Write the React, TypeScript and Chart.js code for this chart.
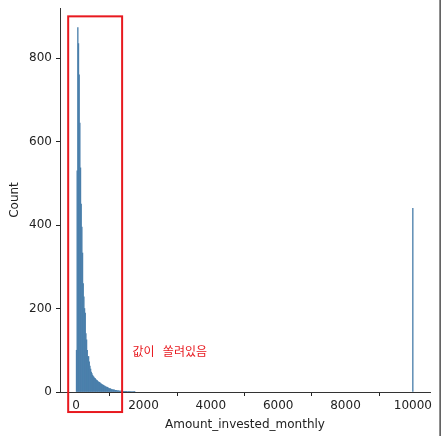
import React, { useEffect, useRef } from "react";
import { Chart, registerables } from "chart.js";

Chart.register(...registerables);

// Histogram of Amount_invested_monthly: bins of equal width starting at 0
const binStart = 0;
const binWidth = 20;
const binCounts = [
  100, 530, 873, 835, 760, 644, 537, 450, 395, 333, // 0-200
  260, 228, 200, 189, 140, 125, 100, 85, 85, 72, // 200-400
  62, 55, 48, 44, 40, 37, 36, 33, 32, 30, // 400-600
  28, 27, 25, 24, 23, 22, 20, 19, 18, 17, // 600-800
  16, 15, 14, 13, 12, 12, 11, 10, 9, 8, // 800-1000
  8, 7, 6, 6, 5, 5, 5, 4, 4, 4, // 1000-1200
  3, 3, 3, 3, 2, 2, 2, 2, 2, 1, // 1200-1400
  1, 1, 1, 1, 1, 1, 0, 1, 0, 1, // 1400-1600
  0, 1, 0, 0, 1, 0, 1, 0, // 1600-1760
];
// Outlier bin (placeholder value 10000)
const outlierValues = [10000];
const outlierCounts = [440];

const xTicks = [0, 2000, 4000, 6000, 8000, 10000];
const yTicks = [0, 200, 400, 600, 800];
const xLabel = "Amount_invested_monthly";
const yLabel = "Count";

// Annotation (data coordinates)
const boxXRange = [-237, 1365];
const boxYRange = [-48, 900];
const noteText = "값이  쏠려있음";
const notePos = [1670, 96];

const BAR_COLOR = "#4a7fab";
const TEXT_COLOR = "#222222";

const overlayPlugin = {
  id: "overlay",
  afterDraw(chart: any) {
    const { ctx, scales } = chart;
    const x = scales.x;
    const y = scales.y;
    ctx.save();
    // red highlight box
    const x0 = x.getPixelForValue(boxXRange[0]);
    const x1 = x.getPixelForValue(boxXRange[1]);
    const y0 = y.getPixelForValue(boxYRange[1]);
    const y1 = y.getPixelForValue(boxYRange[0]);
    ctx.strokeStyle = "#e8191f";
    ctx.lineWidth = 2;
    ctx.strokeRect(x0, y0, x1 - x0, y1 - y0);
    // note text
    ctx.fillStyle = "#e8191f";
    ctx.font = '12px "Noto Sans CJK KR", sans-serif';
    ctx.textAlign = "left";
    ctx.textBaseline = "middle";
    try {
      (ctx as any).wordSpacing = "1.5px";
    } catch (e) {}
    ctx.fillText(noteText, x.getPixelForValue(notePos[0]), y.getPixelForValue(notePos[1]));
    // neighbouring figure edge
    ctx.fillStyle = "#222222";
    ctx.fillRect(439.5, 0, 1.2, chart.height);
    ctx.restore();
  },
};

export default function App() {
  const canvasRef = useRef<HTMLCanvasElement | null>(null);

  useEffect(() => {
    const canvas = canvasRef.current;
    if (!canvas) return;
    const points = binCounts.map((c, i) => ({ x: binStart + binWidth * (i + 0.5), y: c }));
    outlierValues.forEach((v, i) => points.push({ x: v, y: outlierCounts[i] }));

    const chart = new Chart(canvas, {
      type: "bar",
      data: {
        datasets: [
          {
            data: points,
            backgroundColor: BAR_COLOR,
            borderWidth: 0,
            barPercentage: 1,
            categoryPercentage: 1,
          } as any,
        ],
      },
      options: {
        animation: false,
        responsive: false,
        devicePixelRatio: 1,
        layout: { padding: { top: 8, right: 12, left: 0, bottom: 0 } },
        plugins: { legend: { display: false }, tooltip: { enabled: false } },
        scales: {
          x: {
            type: "linear",
            min: -480,
            max: 10510,
            offset: false,
            afterBuildTicks: (s: any) => {
              s.ticks = xTicks.map((v) => ({ value: v }));
            },
            afterFit: (s: any) => {
              s.height = 44;
              s.paddingLeft = 0;
              s.paddingRight = 0;
              s.paddingTop = 0;
              s.paddingBottom = 0;
            },
            grid: { drawOnChartArea: false, drawTicks: true, tickLength: 4, color: TEXT_COLOR, tickWidth: 1 },
            border: { display: true, color: "#333333", width: 1 },
            ticks: {
              color: TEXT_COLOR,
              padding: 3,
              maxRotation: 0,
              autoSkip: false,
              font: { family: '"DejaVu Sans"', size: 12 },
              callback: (v: any) => String(v),
            },
            title: {
              display: true,
              text: xLabel,
              color: TEXT_COLOR,
              font: { family: '"DejaVu Sans"', size: 12 },
              padding: { top: 0, bottom: 4 },
            },
          },
          y: {
            type: "linear",
            min: 0,
            max: 920,
            afterBuildTicks: (s: any) => {
              s.ticks = yTicks.map((v) => ({ value: v }));
            },
            afterFit: (s: any) => {
              s.width = 60;
              s.paddingLeft = 0;
              s.paddingRight = 0;
              s.paddingTop = 0;
              s.paddingBottom = 0;
            },
            grid: { drawOnChartArea: false, drawTicks: true, tickLength: 4, color: TEXT_COLOR, tickWidth: 1 },
            border: { display: true, color: "#333333", width: 1 },
            ticks: {
              color: TEXT_COLOR,
              padding: 4,
              autoSkip: false,
              font: { family: '"DejaVu Sans"', size: 12 },
              callback: (v: any) => String(v),
            },
            title: {
              display: true,
              text: yLabel,
              color: TEXT_COLOR,
              font: { family: '"DejaVu Sans"', size: 12 },
              padding: { top: 8, bottom: 0 },
            },
          },
        },
      },
      plugins: [overlayPlugin],
    });
    return () => chart.destroy();
  }, []);

  return (
    <div style={{ position: "absolute", left: 0, top: 0, width: 442, height: 436, background: "#fff" }}>
      <canvas ref={canvasRef} width={442} height={436} style={{ display: "block" }} />
    </div>
  );
}
